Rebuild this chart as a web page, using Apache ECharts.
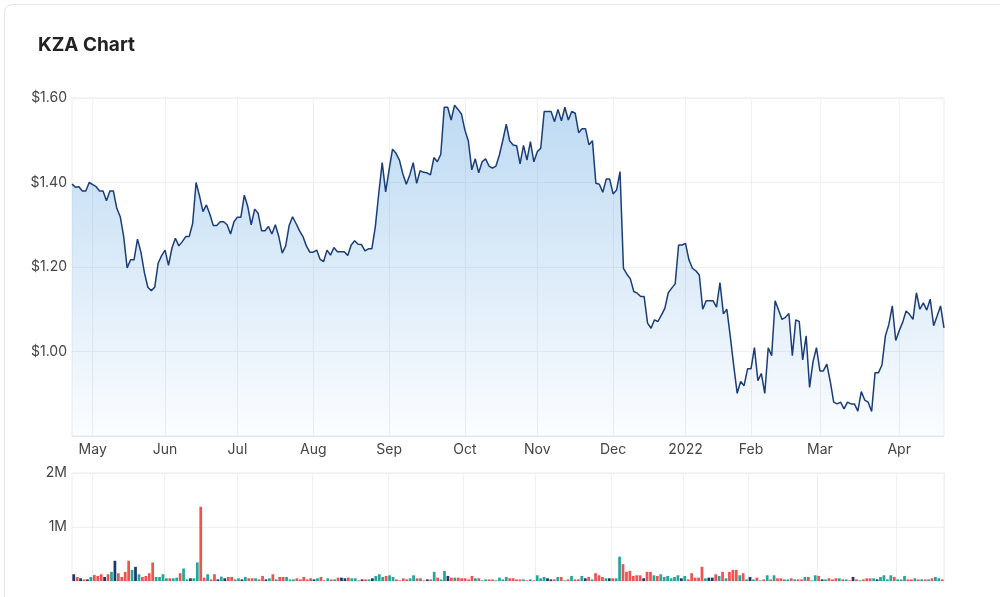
<!DOCTYPE html>
<html>
<head>
<meta charset="utf-8">
<title>KZA Chart</title>
<script src="https://cdn.jsdelivr.net/npm/echarts@6/dist/echarts.min.js"></script>
<style>
  html, body { margin: 0; padding: 0; background: #fff; }
  .card {
    position: absolute; left: 4px; top: 4px; width: 1010px; height: 620px;
    border: 1px solid #e6e6e6; border-radius: 8px; box-sizing: border-box;
  }
  #main { position: absolute; left: 0; top: 0; width: 1000px; height: 597px; }
</style>
</head>
<body>
<div class="card"></div>
<div id="main"></div>
<script>
// trading days from 2021-04-23 to 2022-04-22 (weekdays, ASX holidays removed)
const startDay = '2021-04-23';
const endDay = '2022-04-22';
const holidays = ['2021-06-14', '2021-12-27', '2021-12-28', '2022-01-03', '2022-01-26', '2022-04-15', '2022-04-18'];
const monthNames = ['2022', 'Feb', 'Mar', 'Apr', 'May', 'Jun', 'Jul', 'Aug', 'Sep', 'Oct', 'Nov', 'Dec'];

// close price (AUD), one per trading day
const closes = [
  1.396, 1.389, 1.39, 1.38, 1.38, 1.40, 1.395, 1.39, 1.38, 1.38,
  1.357, 1.38, 1.38, 1.339, 1.319, 1.272, 1.198, 1.217, 1.217, 1.266,
  1.235, 1.187, 1.152, 1.144, 1.152, 1.209, 1.227, 1.24, 1.204, 1.245,
  1.268, 1.25, 1.26, 1.272, 1.272, 1.303, 1.40, 1.368, 1.331, 1.347,
  1.325, 1.298, 1.298, 1.307, 1.307, 1.30, 1.278, 1.307, 1.318, 1.318,
  1.37, 1.343, 1.30, 1.337, 1.327, 1.286, 1.286, 1.296, 1.278, 1.30,
  1.272, 1.233, 1.25, 1.298, 1.319, 1.303, 1.286, 1.272, 1.25, 1.235,
  1.235, 1.24, 1.218, 1.213, 1.24, 1.228, 1.246, 1.236, 1.236, 1.236,
  1.227, 1.252, 1.262, 1.254, 1.253, 1.238, 1.243, 1.243, 1.295, 1.374,
  1.447, 1.378, 1.43, 1.479, 1.469, 1.453, 1.42, 1.396, 1.418, 1.447,
  1.398, 1.428, 1.424, 1.423, 1.418, 1.459, 1.449, 1.467, 1.578, 1.578,
  1.548, 1.583, 1.573, 1.562, 1.524, 1.498, 1.43, 1.456, 1.423, 1.449,
  1.456, 1.439, 1.434, 1.439, 1.465, 1.50, 1.538, 1.498, 1.489, 1.487,
  1.444, 1.488, 1.453, 1.497, 1.449, 1.473, 1.481, 1.568, 1.568, 1.568,
  1.544, 1.573, 1.546, 1.578, 1.548, 1.568, 1.564, 1.518, 1.527, 1.527,
  1.489, 1.499, 1.398, 1.396, 1.377, 1.408, 1.408, 1.373, 1.382, 1.426,
  1.197, 1.183, 1.172, 1.142, 1.138, 1.13, 1.13, 1.067, 1.055, 1.075,
  1.071, 1.086, 1.102, 1.139, 1.15, 1.16, 1.252, 1.252, 1.256, 1.217,
  1.197, 1.191, 1.181, 1.10, 1.12, 1.12, 1.12, 1.105, 1.163, 1.089,
  1.10, 1.035, 0.966, 0.901, 0.929, 0.919, 0.959, 0.959, 1.009, 0.931,
  0.948, 0.901, 1.009, 0.99, 1.12, 1.098, 1.076, 1.081, 1.09, 0.99,
  1.075, 1.071, 0.98, 1.037, 0.915, 0.976, 1.009, 0.954, 0.954, 0.97,
  0.929, 0.88, 0.876, 0.88, 0.864, 0.88, 0.876, 0.876, 0.859, 0.905,
  0.885, 0.88, 0.858, 0.95, 0.95, 0.968, 1.037, 1.064, 1.108, 1.026,
  1.049, 1.069, 1.096, 1.088, 1.076, 1.139, 1.10, 1.115, 1.098, 1.124,
  1.061, 1.084, 1.108, 1.056
];

// daily volume, thousands of shares
const volumesK = [
  125, 75, 50, 30, 30, 75, 112, 94, 125, 75,
  125, 170, 375, 144, 75, 170, 375, 206, 262, 125,
  75, 94, 144, 344, 75, 75, 125, 50, 50, 50,
  62, 144, 231, 30, 50, 50, 344, 1375, 62, 125,
  30, 125, 30, 81, 50, 75, 75, 30, 50, 30,
  75, 50, 50, 50, 30, 94, 30, 50, 125, 30,
  75, 75, 75, 30, 30, 50, 30, 75, 30, 50,
  30, 50, 75, 12, 50, 30, 30, 62, 62, 50,
  62, 50, 50, 12, 30, 30, 30, 50, 94, 125,
  75, 94, 106, 75, 30, 12, 50, 30, 50, 106,
  50, 50, 12, 30, 30, 169, 62, 30, 188, 94,
  62, 62, 62, 50, 50, 30, 94, 50, 50, 12,
  30, 30, 30, 12, 62, 30, 75, 50, 50, 30,
  30, 30, 12, 30, 12, 106, 50, 75, 50, 30,
  30, 75, 75, 12, 30, 94, 30, 30, 94, 50,
  75, 30, 144, 106, 75, 50, 50, 50, 50, 450,
  312, 169, 188, 94, 106, 106, 50, 169, 169, 106,
  94, 125, 75, 94, 50, 75, 106, 50, 94, 30,
  144, 62, 62, 262, 50, 62, 62, 125, 94, 169,
  50, 169, 206, 206, 106, 144, 30, 75, 30, 62,
  12, 30, 106, 30, 106, 50, 50, 30, 30, 50,
  30, 30, 30, 75, 75, 12, 106, 94, 30, 30,
  50, 30, 50, 50, 30, 30, 12, 75, 30, 12,
  30, 50, 50, 50, 30, 75, 106, 30, 106, 75,
  30, 30, 94, 30, 30, 50, 30, 30, 30, 30,
  50, 75, 50, 30
];

function tradingDays() {
  let out = [];
  let d = new Date(startDay + 'T00:00:00Z');
  let end = new Date(endDay + 'T00:00:00Z');
  while (d <= end) {
    let s = d.toISOString().slice(0, 10);
    let wd = d.getUTCDay();
    if (wd !== 0 && wd !== 6 && holidays.indexOf(s) < 0) out.push(s);
    d.setUTCDate(d.getUTCDate() + 1);
  }
  return out;
}

let dates = tradingDays();
function isMonthStart(i) {
  return i > 0 && dates[i].slice(5, 7) !== dates[i - 1].slice(5, 7);
}

let upColor = '#26a69a';
let downColor = '#ef5350';
let flatColor = '#1b3a6b';
let volumeData = volumesK.map(function (v, i) {
  let c = flatColor;
  if (i > 0) {
    let diff = closes[i] - closes[i - 1];
    if (diff > 0.0015) c = upColor;
    else if (diff < -0.0015) c = downColor;
  }
  return { value: v * 1000, itemStyle: { color: c } };
});

let labelFont = { color: '#444', fontSize: 14, fontFamily: 'Inter, sans-serif' };

let chart = echarts.init(document.getElementById('main'));
let option = {
  animation: false,
  title: {
    text: 'KZA Chart',
    left: 33, top: 31,
    textStyle: { fontSize: 19, fontWeight: 'bold', color: '#222', fontFamily: 'Inter, sans-serif' }
  },
  grid: [
    { left: 72, right: 56, top: 98, height: 338, show: true, borderColor: '#ececec', borderWidth: 1 },
    { left: 72, right: 56, top: 473, height: 108, show: true, borderColor: '#ececec', borderWidth: 1 }
  ],
  xAxis: [
    {
      type: 'category', gridIndex: 0, data: dates, boundaryGap: false,
      axisLine: { lineStyle: { color: '#e4e4e4' } },
      axisTick: { show: false },
      axisLabel: Object.assign({
        interval: function (i) { return isMonthStart(i); },
        formatter: function (v) { return monthNames[(Number(v.slice(5, 7)) + 11) % 12]; },
        margin: 7
      }, labelFont),
      splitLine: { show: true, interval: function (i) { return isMonthStart(i); }, lineStyle: { color: '#efefef' } }
    },
    {
      type: 'category', gridIndex: 1, data: dates, boundaryGap: true,
      axisLine: { show: false },
      axisTick: { show: false },
      axisLabel: { show: false },
      splitLine: { show: true, interval: function (i) { return isMonthStart(i); }, lineStyle: { color: '#efefef' } }
    }
  ],
  yAxis: [
    {
      type: 'value', gridIndex: 0, min: 0.8, max: 1.6, interval: 0.2,
      axisLine: { show: false }, axisTick: { show: false },
      axisLabel: Object.assign({
        showMinLabel: false, margin: 5,
        formatter: function (v) { return '$' + v.toFixed(2); }
      }, labelFont),
      splitLine: { lineStyle: { color: '#efefef' } }
    },
    {
      type: 'value', gridIndex: 1, min: 0, max: 2000000, interval: 1000000,
      axisLine: { show: false }, axisTick: { show: false },
      axisLabel: Object.assign({
        showMinLabel: false, margin: 5,
        formatter: function (v) { return (v / 1000000) + 'M'; }
      }, labelFont),
      splitLine: { lineStyle: { color: '#efefef' } }
    }
  ],
  series: [
    {
      name: 'Close', type: 'line', xAxisIndex: 0, yAxisIndex: 0,
      data: closes, showSymbol: false,
      lineStyle: { color: '#1a3d78', width: 1.5 },
      areaStyle: {
        color: new echarts.graphic.LinearGradient(0, 0, 0, 1, [
          { offset: 0, color: 'rgba(105,170,226,0.62)' },
          { offset: 1, color: 'rgba(105,170,226,0.04)' }
        ])
      }
    },
    {
      name: 'Volume', type: 'bar', xAxisIndex: 1, yAxisIndex: 1,
      data: volumeData, barCategoryGap: '20%'
    }
  ]
};
chart.setOption(option);
</script>
</body>
</html>
